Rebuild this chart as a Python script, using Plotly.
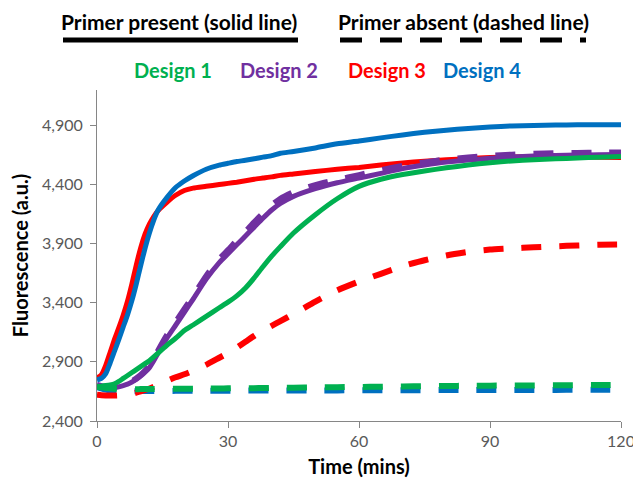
import plotly.graph_objects as go

time = [0, 1, 2, 3, 4, 5, 6, 7, 8, 9, 10, 11, 12, 13, 14, 16, 18, 20, 22, 25, 28, 30, 32, 34, 36,
        38, 40, 42, 45, 50, 55, 60, 65, 70, 75, 80, 85, 90, 95, 100, 105, 110, 115, 120]

d1_present = [2690, 2695, 2700, 2706, 2715, 2735, 2760, 2785, 2810, 2835, 2860, 2885, 2910, 2942,
              2975, 3040, 3100, 3165, 3212, 3285, 3358, 3405, 3458, 3525, 3610, 3705, 3795, 3875,
              3990, 4145, 4280, 4385, 4445, 4485, 4515, 4542, 4565, 4585, 4600, 4610, 4618, 4625,
              4632, 4638]
d2_present = [2705, 2695, 2690, 2686, 2685, 2690, 2700, 2712, 2730, 2752, 2780, 2812, 2850, 2910,
              2975, 3100, 3210, 3320, 3430, 3600, 3740, 3815, 3890, 3965, 4040, 4115, 4185, 4240,
              4300, 4365, 4415, 4455, 4495, 4535, 4565, 4590, 4608, 4622, 4633, 4641, 4646, 4650,
              4652, 4655]
d3_present = [2763, 2790, 2870, 2980, 3090, 3190, 3295, 3415, 3560, 3720, 3865, 3980, 4065, 4130,
              4180, 4250, 4310, 4350, 4370, 4385, 4400, 4410, 4420, 4432, 4445, 4455, 4465, 4478,
              4490, 4510, 4530, 4545, 4565, 4582, 4598, 4610, 4620, 4628, 4634, 4637, 4636, 4634,
              4632, 4630]
d4_present = [2747, 2760, 2800, 2890, 2990, 3090, 3195, 3300, 3420, 3560, 3715, 3860, 3990, 4100,
              4185, 4290, 4375, 4430, 4475, 4530, 4565, 4580, 4595, 4605, 4618, 4632, 4645, 4665,
              4680, 4710, 4745, 4768, 4795, 4820, 4842, 4860, 4875, 4887, 4896, 4900, 4903, 4905,
              4906, 4907]

d1_absent = [2690, 2685, 2680, 2676, 2673, 2671, 2670, 2669, 2669, 2669, 2670, 2670, 2670, 2671,
             2671, 2672, 2672, 2673, 2673, 2674, 2675, 2676, 2677, 2677, 2678, 2679, 2680, 2681,
             2682, 2684, 2686, 2688, 2690, 2692, 2694, 2696, 2698, 2699, 2700, 2701, 2702, 2703,
             2704, 2705]
d2_absent = [2705, 2695, 2690, 2686, 2685, 2690, 2703, 2716, 2736, 2760, 2790, 2825, 2865, 2925,
             2995, 3125, 3235, 3345, 3455, 3625, 3770, 3845, 3925, 4000, 4080, 4155, 4225, 4280,
             4335, 4395, 4440, 4480, 4522, 4558, 4588, 4612, 4630, 4643, 4653, 4660, 4665, 4668,
             4670, 4672]
d3_absent = [2622, 2618, 2616, 2615, 2615, 2617, 2620, 2625, 2632, 2640, 2650, 2662, 2675, 2690,
             2705, 2740, 2770, 2795, 2825, 2875, 2935, 2975, 3020, 3070, 3120, 3165, 3205, 3245,
             3305, 3410, 3505, 3580, 3645, 3710, 3760, 3800, 3830, 3850, 3860, 3870, 3878, 3885,
             3891, 3893]
d4_absent = [2688, 2675, 2665, 2658, 2654, 2652, 2652, 2652, 2652, 2653, 2653, 2653, 2653, 2654,
             2654, 2654, 2655, 2655, 2655, 2656, 2656, 2656, 2657, 2657, 2657, 2658, 2658, 2658,
             2658, 2659, 2659, 2660, 2660, 2661, 2661, 2662, 2662, 2662, 2663, 2663, 2663, 2664,
             2664, 2664]

design_names = ["Design 1", "Design 2", "Design 3", "Design 4"]
colors = {"Design 1": "#00B050", "Design 2": "#7030A0", "Design 3": "#FF0000", "Design 4": "#0070C0"}

x_ticks = [0, 30, 60, 90, 120]
y_ticks = [2400, 2900, 3400, 3900, 4400, 4900]

FONT = "Lato"
DASH = "20px,18px"

fig = go.Figure()

def add(y, name, dashed):
    fig.add_trace(go.Scatter(
        x=time, y=y, mode="lines", name=name, showlegend=False,
        line=dict(color=colors[name], width=6 if dashed else 5,
                  dash=DASH if dashed else "solid", shape="spline", smoothing=0.5),
    ))

add(d4_absent, "Design 4", True)
add(d3_present, "Design 3", False)
add(d4_present, "Design 4", False)
add(d2_present, "Design 2", False)
add(d2_absent, "Design 2", True)
add(d1_present, "Design 1", False)
add(d3_absent, "Design 3", True)
add(d1_absent, "Design 1", True)

# plot area in pixels: x 97..621, y 90..421
L, R, T, B = 97, 12, 90, 64
W, H = 633, 485
pw, ph = W - L - R, H - T - B

def px(xp):
    return (xp - L) / pw

def py(yp):
    return (H - B - yp) / ph

anns = []
for text, cx in [("Primer present (solid line)", 179), ("Primer absent (dashed line)", 463)]:
    anns.append(dict(text=text, x=px(cx), y=py(22), xref="paper", yref="paper",
                     showarrow=False, xanchor="center", yanchor="middle",
                     font=dict(family=FONT, size=21, color="black", weight="bold")))
label_x = [173, 279, 387, 482]
for name, lx in zip(design_names, label_x):
    anns.append(dict(text=name, x=px(lx), y=py(70), xref="paper", yref="paper",
                     showarrow=False, xanchor="center", yanchor="middle",
                     font=dict(family=FONT, size=20, color=colors[name], weight="bold")))

shapes = [
    dict(type="line", xref="paper", yref="paper", x0=px(63), x1=px(298), y0=py(40), y1=py(40),
         line=dict(color="black", width=5)),
    dict(type="line", xref="paper", yref="paper", x0=px(340), x1=px(586), y0=py(40), y1=py(40),
         line=dict(color="black", width=5, dash="22px,18px")),
]

axis_common = dict(showline=True, linecolor="#868686", linewidth=1, ticks="outside",
                   ticklen=6, tickcolor="#868686", showgrid=False, zeroline=False,
                   ticklabeloverflow="allow", automargin=False,
                   tickfont=dict(family=FONT, size=16, color="#595959"))

fig.update_layout(
    width=W, height=H, margin=dict(l=L, r=R, t=T, b=B, autoexpand=False),
    paper_bgcolor="white", plot_bgcolor="white",
    font=dict(family=FONT),
    xaxis=dict(range=[0, 120], tickvals=x_ticks, **axis_common,
               title=dict(text="Time (mins)", standoff=10,
                          font=dict(family=FONT, size=20, color="black", weight="bold"))),
    yaxis=dict(range=[2400, 5200], tickvals=y_ticks, tickformat=",", ticklabelstandoff=4,
               **axis_common,
               title=dict(text="Fluorescence (a.u.)", standoff=8,
                          font=dict(family=FONT, size=20, color="black", weight="bold"))),
    annotations=anns, shapes=shapes,
)

fig.write_html("out.html")
